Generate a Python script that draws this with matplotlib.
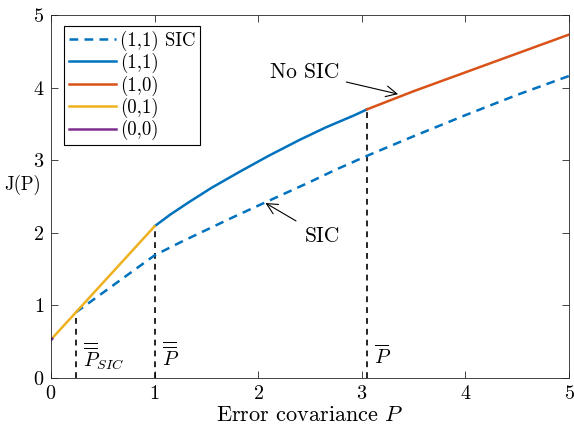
import matplotlib
matplotlib.use('Agg')
import matplotlib.pyplot as plt
import numpy as np

plt.rcParams['font.family'] = 'serif'
plt.rcParams['font.serif'] = ['cmr10']
plt.rcParams['mathtext.fontset'] = 'cm'
plt.rcParams['axes.formatter.use_mathtext'] = True

# values
p_sic = [0.24, 1.0, 1.25, 1.5, 1.75, 2.07, 2.5, 2.75, 3.05, 3.5, 4.0, 4.5, 5.0]
j_sic = [0.905, 1.69, 1.87, 2.04, 2.21, 2.42, 2.70, 2.87, 3.06, 3.33, 3.62, 3.90, 4.16]

p_11 = [1.0, 1.15, 1.34, 1.55, 1.82, 2.1, 2.4, 2.65, 2.93, 3.05]
j_11 = [2.09, 2.25, 2.43, 2.62, 2.84, 3.06, 3.28, 3.45, 3.62, 3.70]

p_10 = [3.05, 3.5, 4.0, 4.5, 5.0]
j_10 = [3.70, 3.95, 4.21, 4.47, 4.73]

p_01 = [0.0, 1.0]
j_01 = [0.53, 2.09]

p_00 = [0.0, 0.012]
j_00 = [0.52, 0.54]

# thresholds and the value reached there
p_thr = [0.24, 1.0, 3.05]
j_thr = [0.905, 2.09, 3.70]
thr_labels = [r'$\overline{\overline{P}}_{SIC}$', r'$\overline{\overline{P}}$', r'$\overline{P}$']

blue = '#0072BD'
red = '#D95319'
yellow = '#EDB120'
purple = '#7E2F8E'
axcol = '#262626'
fs = 14.5

fig = plt.figure(figsize=(5.74, 4.34), dpi=100)
ax = fig.add_axes([0.0889, 0.129, 0.9024, 0.8365])

for p, j in zip(p_thr, j_thr):
    ax.plot([p, p], [0, j], color='k', ls=(0, (3.5, 3)), lw=1.2)

ax.plot(p_sic, j_sic, color=blue, ls=(0, (3.5, 2.5)), lw=1.8, label='(1,1) SIC')
ax.plot(p_11, j_11, color=blue, lw=1.8, label='(1,1)')
ax.plot(p_10, j_10, color=red, lw=1.8, label='(1,0)')
ax.plot(p_01, j_01, color=yellow, lw=1.8, label='(0,1)')
ax.plot(p_00, j_00, color=purple, lw=1.8, label='(0,0)')

for p, lab in zip(p_thr, thr_labels):
    ax.text(p + 0.07, 0.3, lab, fontsize=fs, ha='left', va='center')

arrow = dict(arrowstyle='->,head_length=0.5,head_width=0.25',
             lw=0.8, color='k', shrinkB=0)
ax.annotate('No SIC', xy=(3.35, 3.91), xytext=(2.45, 4.21), fontsize=15.5,
            ha='center', va='center', arrowprops=dict(arrow, shrinkA=3))
ax.annotate('SIC', xy=(2.07, 2.41), xytext=(2.62, 1.95), fontsize=15.5,
            ha='center', va='center', arrowprops=dict(arrow, shrinkA=5))

ax.set_xlim(0, 5)
ax.set_ylim(0, 5)
ax.set_xticks(range(6))
ax.set_yticks(range(6))
ax.tick_params(direction='in', top=True, right=True, length=5, width=0.6,
               color=axcol, labelsize=fs, pad=5)
for s in ax.spines.values():
    s.set_color(axcol)
    s.set_linewidth(0.6)

ax.set_xlabel('Error covariance $P$', fontsize=16, labelpad=2)
# y label sits left of the tick labels, unrotated
fig.text(4 / 574, 1 - 185 / 434, 'J(P)', fontsize=13.5, ha='left', va='center')

leg = ax.legend(loc='upper left', bbox_to_anchor=(0.025, 0.97), borderaxespad=0,
                fontsize=13.5, handlelength=2.5, fancybox=False, framealpha=1,
                edgecolor='k', labelspacing=0.12, handletextpad=0.25,
                borderpad=0.25)
leg.get_frame().set_linewidth(0.8)

fig.savefig('out.png', dpi=100)
